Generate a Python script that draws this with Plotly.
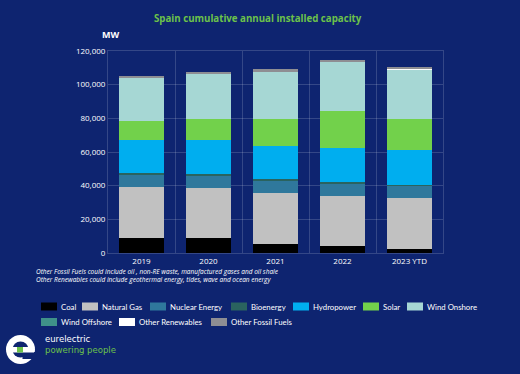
import plotly.graph_objects as go

years = ["2019", "2020", "2021", "2022", "2023 YTD"]
coal = [9100, 8700, 5500, 4150, 2550]
natural_gas = [30400, 30000, 30000, 30000, 30000]
nuclear = [7300, 7500, 7500, 7300, 7300]
bioenergy = [800, 800, 800, 800, 800]
hydropower = [19700, 20100, 19900, 20300, 20700]
solar = [11250, 12240, 16000, 22100, 18360]
wind_onshore = [25660, 27050, 28400, 29000, 29400]
wind_offshore = [5, 5, 5, 5, 5]
other_renewables = [10, 10, 10, 10, 10]
other_fossil = [1000, 1000, 1000, 1000, 1200]

series = [
    ("Coal", coal, "#000000"),
    ("Natural Gas", natural_gas, "#C1C1C1"),
    ("Nuclear Energy", nuclear, "#2F789C"),
    ("Bioenergy", bioenergy, "#2A635F"),
    ("Hydropower", hydropower, "#00AEEF"),
    ("Solar", solar, "#72D14B"),
    ("Wind Onshore", wind_onshore, "#A6D7D4"),
    ("Wind Offshore", wind_offshore, "#3F9189"),
    ("Other Renewables", other_renewables, "#FFFFFF"),
    ("Other Fossil Fuels", other_fossil, "#8E8E93"),
]

BG = "#0E2470"
W, H = 520, 374
L, R, T, B = 108, 443, 51, 253


def px(x):
    return (x - L) / (R - L)


def py(y):
    return (B - y) / (B - T)


xs = list(range(len(years)))
fig = go.Figure()
for name, vals, color in series:
    fig.add_trace(go.Bar(
        x=xs, y=vals, name=name, marker=dict(color=color, line=dict(width=0)),
        width=0.68, showlegend=False,
    ))

FONT = "Open Sans"
LFONT = "Lato"
annotations = [
    dict(text="<b>Spain cumulative annual installed capacity</b>", x=px(258), y=py(18),
         xref="paper", yref="paper", showarrow=False, xanchor="center", yanchor="middle",
         font=dict(color="#6CC24A", size=9.7, family=FONT)),
    dict(text="<b>MW</b>", x=px(110), y=py(35), xref="paper", yref="paper", showarrow=False,
         xanchor="center", yanchor="middle", font=dict(color="white", size=9, family=FONT)),
    dict(text="<i>Other Fossil Fuels could include oil , non-RE waste, manufactured gases and oil shale"
              "<br>Other Renewables could include geothermal energy, tides, wave and ocean energy</i>",
         x=px(35), y=py(275.5), xref="paper", yref="paper", showarrow=False, xanchor="left",
         yanchor="middle", align="left", borderpad=0,
         font=dict(color="white", size=6.5, family=FONT)),
    dict(text="eurelectric<br><span style='color:#6CC24A'>powering people</span>",
         x=px(44), y=py(344), xref="paper", yref="paper", showarrow=False,
         xanchor="left", yanchor="middle", align="left", borderpad=0,
         font=dict(color="white", size=8.5, family="DejaVu Sans")),
]

shapes = []
# custom legend
legend_pos = [(41, 306.5), (82, 306.5), (150, 306.5), (231, 306.5), (293, 306.5),
              (363, 306.5), (407, 306.5), (41, 322), (119, 322), (211, 322)]
for (name, vals, color), (lx, ly) in zip(series, legend_pos):
    shapes.append(dict(type="rect", xref="paper", yref="paper",
                       x0=px(lx), x1=px(lx + 16), y0=py(ly - 4), y1=py(ly + 4),
                       fillcolor=color, line=dict(width=0)))
    annotations.append(dict(text=name, x=px(lx + 19), y=py(ly), xref="paper", yref="paper",
                            showarrow=False, xanchor="left", yanchor="middle", borderpad=0,
                            font=dict(color="white", size=7.8, family=LFONT)))

# logo "e"
cx, cy, r = 20.5, 349.5, 14.5
shapes.append(dict(type="circle", xref="paper", yref="paper", x0=px(cx - r), x1=px(cx + r),
                   y0=py(cy - r), y1=py(cy + r), fillcolor="white", line=dict(width=0)))
ri = 8
shapes.append(dict(type="circle", xref="paper", yref="paper", x0=px(cx - ri), x1=px(cx + ri),
                   y0=py(cy - ri), y1=py(cy + ri), fillcolor=BG, line=dict(width=0)))
shapes.append(dict(type="rect", xref="paper", yref="paper", x0=px(cx + 2), x1=px(cx + 16),
                   y0=py(cy + 2.5), y1=py(cy + 9.5), fillcolor=BG, line=dict(width=0)))
shapes.append(dict(type="rect", xref="paper", yref="paper", x0=px(12), x1=px(34),
                   y0=py(347), y1=py(352.5), fillcolor="white", line=dict(width=0)))
shapes.append(dict(type="rect", xref="paper", yref="paper", x0=px(17), x1=px(23),
                   y0=py(347), y1=py(352.5), fillcolor="#6CC24A", line=dict(width=0)))

GRID = "rgba(255,255,255,0.16)"
fig.update_layout(
    width=W, height=H, barmode="stack",
    paper_bgcolor=BG, plot_bgcolor=BG,
    margin=dict(l=L, r=W - R, t=T, b=H - B, pad=0),
    font=dict(family=FONT, color="white"),
    xaxis=dict(range=[-0.5, 4.5], tickvals=xs, ticktext=years, showgrid=False,
               zeroline=False, ticks="", tickfont=dict(size=8, color="white"),
               showline=True, linecolor=GRID, linewidth=1, mirror=True,
               minor=dict(tick0=-0.5, dtick=1, showgrid=True, gridcolor=GRID, gridwidth=1, ticks="")),
    yaxis=dict(range=[0, 120000], dtick=20000, tickformat=",", showgrid=True, gridcolor=GRID,
               gridwidth=1, zeroline=False, ticks="", tickfont=dict(size=8, color="white"),
               showline=True, linecolor=GRID, mirror=True),
    annotations=annotations, shapes=shapes, showlegend=False,
)

fig.write_html("out.html", config={"displayModeBar": False},
               post_script="document.body.style.margin='0';document.body.style.background='%s';" % BG)
